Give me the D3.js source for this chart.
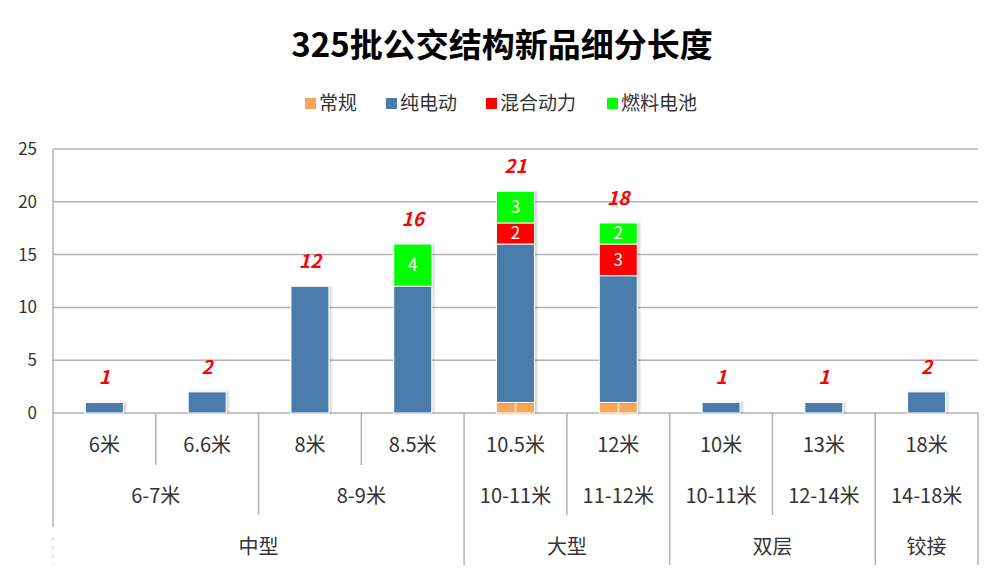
<!DOCTYPE html>
<html lang="zh">
<head>
	<meta charset="utf-8">
	<title>325批公交结构新品细分长度</title>
	<script src="https://d3js.org/d3.v7.min.js" charset="utf-8"></script>
	<style>
		body { margin: 0; background: #fff; }
		text { font-family: "Noto Sans CJK SC", "Microsoft YaHei", sans-serif; }
	</style>
</head>
<body>
	<div id="chart"></div>
<script>
	// chart data
	var lengths = ["6米", "6.6米", "8米", "8.5米", "10.5米", "12米", "10米", "13米", "18米"];
	var ranges = ["6-7米", "6-7米", "8-9米", "8-9米", "10-11米", "11-12米", "10-11米", "12-14米", "14-18米"];
	var types = ["中型", "中型", "中型", "中型", "大型", "大型", "双层", "双层", "铰接"];

	var seriesNames = ["常规", "纯电动", "混合动力", "燃料电池"];
	var seriesColors = ["#f9a65a", "#4a7bab", "#ff0000", "#00ff00"];
	var regular = [0, 0, 0, 0, 1, 1, 0, 0, 0];
	var electric = [1, 2, 12, 12, 15, 12, 1, 1, 2];
	var hybrid = [0, 0, 0, 0, 2, 3, 0, 0, 0];
	var fuelCell = [0, 0, 0, 4, 3, 2, 0, 0, 0];
	var yTicks = [0, 5, 10, 15, 20, 25];

	var w = 1000, h = 576;
	var plotLeft = 53, plotRight = 978, plotTop = 149, plotBottom = 413;

	var svg = d3.select("#chart").append("svg")
		.attr("width", w)
		.attr("height", h);

	// title
	svg.append("text")
		.attr("x", 502).attr("y", 57)
		.attr("text-anchor", "middle")
		.attr("font-size", "33px")
		.attr("font-weight", "bold")
		.attr("fill", "#000")
		.text("325批公交结构新品细分长度");

	// legend
	var legendX = [305, 386, 486, 607];
	seriesNames.forEach(function(name, i) {
		svg.append("rect")
			.attr("x", legendX[i]).attr("y", 98)
			.attr("width", 11).attr("height", 11)
			.attr("fill", seriesColors[i]);
		svg.append("text")
			.attr("x", legendX[i] + 14).attr("y", 110)
			.attr("font-size", "19px")
			.attr("fill", "#333")
			.text(name);
	});

	var x = d3.scaleBand().domain(d3.range(lengths.length)).range([plotLeft, plotRight]);
	var y = d3.scaleLinear().domain([0, 25]).range([plotBottom, plotTop]);

	// gridlines
	svg.append("g").selectAll("line")
		.data(yTicks)
		.enter().append("line")
		.attr("x1", plotLeft).attr("x2", plotRight)
		.attr("y1", function(d) { return y(d); })
		.attr("y2", function(d) { return y(d); })
		.attr("stroke", "#b3b3b3")
		.attr("stroke-width", 1.5);

	// y axis labels
	svg.append("g").selectAll("text")
		.data(yTicks)
		.enter().append("text")
		.attr("x", 37)
		.attr("y", function(d) { return y(d) + 6; })
		.attr("text-anchor", "end")
		.attr("font-size", "17px")
		.attr("fill", "#333")
		.text(function(d) { return d; });

	// left axis line
	svg.append("line")
		.attr("x1", plotLeft).attr("x2", plotLeft)
		.attr("y1", plotTop).attr("y2", 527)
		.attr("stroke", "#b3b3b3").attr("stroke-width", 1.5);
	svg.append("line")
		.attr("x1", plotLeft).attr("x2", plotLeft)
		.attr("y1", 537).attr("y2", 565)
		.attr("stroke", "#d8d8d8").attr("stroke-width", 1.5)
		.attr("stroke-dasharray", "3,6");

	// stacked bars
	var rows = lengths.map(function(d, i) {
		return { key: i, "常规": regular[i], "纯电动": electric[i], "混合动力": hybrid[i], "燃料电池": fuelCell[i] };
	});
	var stack = d3.stack().keys(seriesNames)(rows);
	var bw = 38;

	var defs = svg.append("defs");
	var filt = defs.append("filter").attr("id", "shadow").attr("x", "-20%").attr("y", "-20%").attr("width", "140%").attr("height", "140%");
	filt.append("feDropShadow").attr("dx", 2).attr("dy", 0).attr("stdDeviation", 1.2).attr("flood-color", "#000").attr("flood-opacity", 0.18);

	stack.forEach(function(layer, s) {
		var g = svg.append("g").attr("filter", "url(#shadow)");
		g.selectAll("rect")
			.data(layer.filter(function(d) { return d[1] > d[0]; }))
			.enter().append("rect")
			.attr("x", function(d) { return x(d.data.key) + x.bandwidth() / 2 - bw / 2; })
			.attr("y", function(d) { return y(d[1]); })
			.attr("width", bw)
			.attr("height", function(d) { return y(d[0]) - y(d[1]); })
			.attr("fill", seriesColors[s])
			.attr("stroke", "#fff")
			.attr("stroke-width", 1);

		// segment value labels (not on 纯电动)
		if (s !== 1) {
			svg.append("g").selectAll("text")
				.data(layer.filter(function(d) { return d[1] > d[0]; }))
				.enter().append("text")
				.attr("x", function(d) { return x(d.data.key) + x.bandwidth() / 2; })
				.attr("y", function(d) { return (y(d[0]) + y(d[1])) / 2 + 6; })
				.attr("text-anchor", "middle")
				.attr("font-size", "17px")
				.attr("fill", s === 0 ? "#fde3c8" : "#fff")
				.text(function(d) { return d[1] - d[0]; });
		}
	});

	// totals
	var totals = rows.map(function(d) { return d["常规"] + d["纯电动"] + d["混合动力"] + d["燃料电池"]; });
	svg.append("g").selectAll("text")
		.data(totals)
		.enter().append("text")
		.attr("x", function(d, i) { return x(i) + x.bandwidth() / 2; })
		.attr("y", function(d) { return y(d) - 18; })
		.attr("text-anchor", "middle")
		.attr("font-size", "19px")
		.attr("font-weight", "bold")
		.attr("font-style", "italic")
		.attr("fill", "#ff0000")
		.text(function(d) { return d; });

	// multi-level category axis
	var axisG = svg.append("g");
	var sepColor = "#b3b3b3";
	for (var i = 1; i < lengths.length; i++) {
		var depth = 465;
		if (ranges[i] !== ranges[i - 1] || i === 5) depth = 515;
		if (types[i] !== types[i - 1]) depth = 565;
		axisG.append("line")
			.attr("x1", x(i)).attr("x2", x(i))
			.attr("y1", plotBottom).attr("y2", depth)
			.attr("stroke", sepColor).attr("stroke-width", 1.5);
	}
	axisG.append("line")
		.attr("x1", plotRight).attr("x2", plotRight)
		.attr("y1", plotBottom).attr("y2", 565)
		.attr("stroke", sepColor).attr("stroke-width", 1.5);

	// level 1 labels
	axisG.selectAll("text.l1")
		.data(lengths)
		.enter().append("text")
		.attr("class", "l1")
		.attr("x", function(d, i) { return x(i) + x.bandwidth() / 2; })
		.attr("y", 452)
		.attr("text-anchor", "middle")
		.attr("font-size", "20px")
		.attr("fill", "#333")
		.text(function(d) { return d; });

	// level 2 labels: group consecutive identical ranges within a type
	var groups2 = [];
	ranges.forEach(function(r, i) {
		var last = groups2[groups2.length - 1];
		if (last && last.name === r && types[i] === types[last.start]) last.end = i;
		else groups2.push({ name: r, start: i, end: i });
	});
	axisG.selectAll("text.l2")
		.data(groups2)
		.enter().append("text")
		.attr("class", "l2")
		.attr("x", function(d) { return (x(d.start) + x(d.end) + x.bandwidth()) / 2; })
		.attr("y", 503)
		.attr("text-anchor", "middle")
		.attr("font-size", "20px")
		.attr("fill", "#333")
		.text(function(d) { return d.name; });

	// level 3 labels
	var groups3 = [];
	types.forEach(function(t, i) {
		var last = groups3[groups3.length - 1];
		if (last && last.name === t) last.end = i;
		else groups3.push({ name: t, start: i, end: i });
	});
	axisG.selectAll("text.l3")
		.data(groups3)
		.enter().append("text")
		.attr("class", "l3")
		.attr("x", function(d) { return (x(d.start) + x(d.end) + x.bandwidth()) / 2; })
		.attr("y", 554)
		.attr("text-anchor", "middle")
		.attr("font-size", "20px")
		.attr("fill", "#333")
		.text(function(d) { return d.name; });
</script>
</body>
</html>
